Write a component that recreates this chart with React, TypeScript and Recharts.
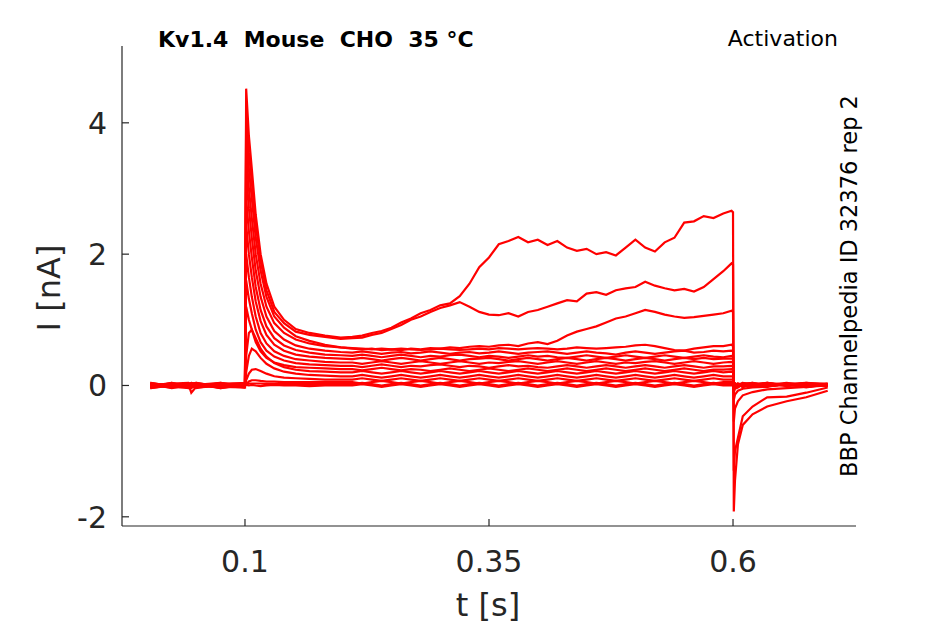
// Kv1.4 activation traces, current vs time
import { LineChart, Line, XAxis, YAxis } from "recharts";

const AXIS = "#262626";
const RED = "#ff0000";
const FONT = "DejaVu Sans, Verdana, sans-serif";

// time points (s)
const tGrid = [
  0.003, 0.025, 0.042, 0.045, 0.05, 0.075, 0.0995,
  0.1, 0.1012, 0.104, 0.107, 0.111, 0.116, 0.122, 0.13, 0.14, 0.152, 0.166, 0.182, 0.198,
  0.21, 0.22, 0.23, 0.24, 0.25, 0.26, 0.27, 0.28, 0.29, 0.3, 0.31, 0.32, 0.33, 0.34, 0.35,
  0.36, 0.37, 0.38, 0.39, 0.4, 0.41, 0.42, 0.43, 0.44, 0.45, 0.46, 0.47, 0.48, 0.49, 0.5,
  0.51, 0.52, 0.53, 0.54, 0.55, 0.56, 0.57, 0.58, 0.59, 0.5985,
  0.6, 0.6008, 0.602, 0.605, 0.61, 0.62, 0.635, 0.655, 0.675, 0.697,
];

// current (nA) per sweep, same order as tGrid
const sweepA = [
  0.03, -0.03, 0.02, -0.11, -0.02, 0.03, -0.02,
  0.0, 4.52, 3.8, 3.3, 2.6, 2.0, 1.55, 1.2, 1.0, 0.86, 0.8, 0.76, 0.73,
  0.74, 0.76, 0.8, 0.83, 0.88, 0.96, 1.02, 1.1, 1.15, 1.22, 1.25, 1.36, 1.55, 1.8, 1.95,
  2.15, 2.2, 2.26, 2.18, 2.22, 2.14, 2.2, 2.1, 2.05, 2.08, 2.0, 2.03, 1.98, 2.1, 2.22,
  2.1, 2.04, 2.18, 2.25, 2.48, 2.5, 2.58, 2.55, 2.62, 2.66,
  2.64, -1.92, -1.45, -0.9, -0.6, -0.44, -0.32, -0.24, -0.18, -0.08,
];
const sweepB = [
  -0.03, 0.04, -0.02, 0.01, 0.03, -0.04, 0.02,
  0.0, 4.25, 3.55, 3.1, 2.45, 1.9, 1.45, 1.12, 0.95, 0.82, 0.77, 0.74, 0.71,
  0.72, 0.73, 0.77, 0.8, 0.86, 0.92, 1.0, 1.05, 1.12, 1.18, 1.22, 1.27, 1.2, 1.12, 1.08,
  1.07, 1.1, 1.05, 1.12, 1.15, 1.2, 1.25, 1.3, 1.28, 1.4, 1.42, 1.38, 1.45, 1.48, 1.5,
  1.58, 1.52, 1.48, 1.45, 1.47, 1.43, 1.5, 1.62, 1.74, 1.86,
  1.84, -1.3, -1.0, -0.8, -0.47, -0.32, -0.18, -0.17, -0.11, -0.03,
];
const sweepC = [
  0.04, -0.01, -0.04, 0.02, -0.02, 0.03, -0.03,
  0.0, 3.95, 3.3, 2.85, 2.25, 1.75, 1.35, 1.05, 0.88, 0.75, 0.68, 0.62, 0.58,
  0.56, 0.55, 0.56, 0.54, 0.55, 0.54, 0.56, 0.55, 0.57, 0.56, 0.58, 0.57, 0.59, 0.6, 0.59,
  0.61, 0.62, 0.6, 0.64, 0.66, 0.63, 0.68, 0.76, 0.82, 0.86, 0.9, 0.96, 1.02, 1.05, 1.1,
  1.15, 1.12, 1.08, 1.05, 1.03, 1.04, 1.06, 1.08, 1.1, 1.14,
  1.12, -0.55, -0.35, -0.24, -0.15, -0.1, -0.06, -0.04, -0.02, 0.0,
];
const sweepD = [
  -0.02, 0.03, 0.04, -0.03, 0.01, 0.02, 0.04,
  0.0, 3.6, 3.0, 2.55, 2.0, 1.55, 1.2, 0.95, 0.8, 0.7, 0.64, 0.6, 0.58,
  0.57, 0.56, 0.55, 0.56, 0.55, 0.56, 0.55, 0.54, 0.55, 0.56, 0.55, 0.54, 0.55, 0.56, 0.55,
  0.57, 0.56, 0.55, 0.56, 0.57, 0.56, 0.55, 0.56, 0.58, 0.57, 0.56, 0.57, 0.58, 0.59, 0.61,
  0.62, 0.6, 0.57, 0.54, 0.53, 0.56, 0.58, 0.6, 0.6, 0.62,
  0.6, -0.22, -0.14, -0.08, -0.05, -0.03, -0.02, 0.03, -0.03, 0.02,
];
const sweepE = [
  -0.04, 0.01, 0.03, 0.04, -0.03, -0.01, 0.02,
  0.0, 3.25, 2.7, 2.25, 1.75, 1.35, 1.05, 0.83, 0.7, 0.61, 0.56, 0.53, 0.51,
  0.5, 0.52, 0.5, 0.48, 0.5, 0.51, 0.49, 0.5, 0.52, 0.5, 0.48, 0.5, 0.51, 0.49, 0.5,
  0.52, 0.5, 0.48, 0.5, 0.51, 0.52, 0.5, 0.48, 0.5, 0.52, 0.5, 0.49, 0.47, 0.5, 0.52,
  0.5, 0.48, 0.5, 0.52, 0.53, 0.5, 0.51, 0.53, 0.52, 0.53,
  0.52, -0.1, -0.05, -0.03, 0.02, -0.02, 0.03, 0.0, 0.04, 0.01,
];
const sweepF = [
  0.02, -0.04, 0.01, 0.03, 0.04, -0.02, -0.03,
  0.0, 2.85, 2.35, 1.95, 1.5, 1.15, 0.9, 0.72, 0.61, 0.54, 0.5, 0.47, 0.46,
  0.45, 0.47, 0.45, 0.43, 0.45, 0.47, 0.45, 0.43, 0.45, 0.44, 0.46, 0.47, 0.45, 0.43, 0.45,
  0.44, 0.42, 0.44, 0.46, 0.44, 0.45, 0.43, 0.42, 0.44, 0.46, 0.44, 0.42, 0.44, 0.46, 0.44,
  0.42, 0.44, 0.46, 0.44, 0.42, 0.44, 0.46, 0.44, 0.43, 0.45,
  0.44, -0.06, -0.03, 0.02, -0.02, 0.03, -0.01, 0.02, -0.02, 0.03,
];
const sweepG = [
  -0.01, 0.04, -0.03, 0.0, 0.03, -0.02, 0.01,
  0.0, 2.45, 2.0, 1.65, 1.28, 0.98, 0.77, 0.62, 0.53, 0.47, 0.44, 0.42, 0.41,
  0.4, 0.42, 0.4, 0.38, 0.4, 0.42, 0.4, 0.38, 0.4, 0.42, 0.4, 0.38, 0.4, 0.41, 0.42,
  0.4, 0.38, 0.4, 0.42, 0.4, 0.38, 0.4, 0.42, 0.4, 0.38, 0.4, 0.42, 0.4, 0.38, 0.4,
  0.42, 0.4, 0.38, 0.4, 0.42, 0.4, 0.42, 0.4, 0.41, 0.41,
  0.41, -0.05, -0.02, 0.03, -0.01, 0.02, 0.04, -0.01, 0.02, 0.01,
];
const sweepH = [
  0.04, -0.02, 0.02, -0.04, 0.01, 0.03, -0.01,
  0.0, 2.0, 1.65, 1.35, 1.05, 0.8, 0.64, 0.52, 0.45, 0.4, 0.38, 0.36, 0.35,
  0.35, 0.33, 0.35, 0.37, 0.35, 0.33, 0.35, 0.37, 0.35, 0.33, 0.35, 0.37, 0.35, 0.33, 0.35,
  0.34, 0.36, 0.37, 0.35, 0.33, 0.35, 0.37, 0.35, 0.33, 0.35, 0.37, 0.35, 0.33, 0.35, 0.34,
  0.36, 0.37, 0.35, 0.33, 0.35, 0.37, 0.35, 0.33, 0.35, 0.36,
  0.35, -0.04, 0.01, -0.02, 0.03, 0.02, -0.01, 0.03, 0.01, 0.02,
];
const sweepI = [
  -0.03, 0.02, 0.0, 0.04, 0.02, -0.04, 0.01,
  0.0, 1.6, 1.32, 1.1, 0.85, 0.66, 0.53, 0.44, 0.38, 0.34, 0.32, 0.31, 0.3,
  0.3, 0.28, 0.3, 0.32, 0.3, 0.28, 0.3, 0.29, 0.31, 0.32, 0.3, 0.28, 0.3, 0.29, 0.27,
  0.29, 0.31, 0.29, 0.3, 0.28, 0.27, 0.29, 0.31, 0.29, 0.27, 0.29, 0.31, 0.29, 0.27, 0.29,
  0.31, 0.29, 0.27, 0.29, 0.31, 0.29, 0.27, 0.29, 0.29, 0.3,
  0.29, -0.03, 0.02, 0.01, -0.02, 0.03, 0.01, 0.04, 0.0, 0.02,
];
const sweepJ = [
  0.02, -0.02, -0.03, 0.03, 0.0, 0.02, 0.03,
  0.0, 1.2, 1.0, 0.85, 0.66, 0.52, 0.42, 0.35, 0.31, 0.28, 0.27, 0.26, 0.25,
  0.25, 0.23, 0.25, 0.27, 0.25, 0.23, 0.25, 0.24, 0.22, 0.24, 0.26, 0.24, 0.22, 0.24, 0.26,
  0.24, 0.22, 0.24, 0.26, 0.24, 0.22, 0.24, 0.26, 0.24, 0.22, 0.24, 0.26, 0.24, 0.22, 0.24,
  0.26, 0.24, 0.22, 0.24, 0.26, 0.24, 0.22, 0.24, 0.24, 0.25,
  0.24, -0.02, 0.03, -0.01, 0.02, 0.04, 0.0, 0.02, 0.03, -0.01,
];
const sweepK = [
  0.0, -0.03, 0.03, 0.01, -0.04, 0.02, 0.03,
  0.0, 0.45, 0.8, 0.85, 0.72, 0.56, 0.44, 0.34, 0.28, 0.24, 0.22, 0.21, 0.2,
  0.2, 0.22, 0.2, 0.18, 0.2, 0.22, 0.2, 0.18, 0.2, 0.22, 0.2, 0.18, 0.2, 0.22, 0.2,
  0.18, 0.2, 0.22, 0.2, 0.18, 0.2, 0.22, 0.2, 0.18, 0.2, 0.22, 0.2, 0.18, 0.2, 0.22,
  0.2, 0.18, 0.2, 0.22, 0.2, 0.18, 0.2, 0.22, 0.2, 0.21,
  0.2, -0.01, 0.03, -0.02, 0.04, 0.01, -0.01, 0.03, 0.01, 0.0,
];
const sweepL = [
  0.03, 0.01, -0.02, 0.02, -0.03, 0.04, -0.01,
  0.0, 0.2, 0.45, 0.56, 0.52, 0.42, 0.33, 0.26, 0.21, 0.18, 0.16, 0.15, 0.14,
  0.14, 0.16, 0.14, 0.12, 0.14, 0.16, 0.14, 0.12, 0.14, 0.16, 0.14, 0.12, 0.14, 0.16, 0.14,
  0.12, 0.14, 0.16, 0.14, 0.12, 0.14, 0.16, 0.14, 0.12, 0.14, 0.16, 0.14, 0.12, 0.14, 0.16,
  0.14, 0.12, 0.14, 0.16, 0.14, 0.12, 0.14, 0.16, 0.14, 0.14,
  0.14, 0.0, 0.03, 0.02, -0.02, 0.01, 0.04, 0.0, 0.02, 0.03,
];
const sweepM = [
  -0.02, 0.03, 0.01, -0.03, 0.02, -0.01, -0.03,
  0.0, 0.08, 0.18, 0.24, 0.25, 0.22, 0.18, 0.14, 0.12, 0.11, 0.1, 0.09, 0.09,
  0.09, 0.11, 0.09, 0.07, 0.09, 0.11, 0.09, 0.07, 0.09, 0.11, 0.09, 0.07, 0.09, 0.11, 0.09,
  0.07, 0.09, 0.11, 0.09, 0.07, 0.09, 0.11, 0.09, 0.07, 0.09, 0.11, 0.09, 0.07, 0.09, 0.11,
  0.09, 0.07, 0.09, 0.11, 0.09, 0.07, 0.09, 0.11, 0.09, 0.09,
  0.09, 0.01, -0.02, 0.03, 0.01, -0.01, 0.04, 0.01, -0.02, 0.02,
];
const sweepN = [
  -0.04, 0.0, 0.03, -0.02, 0.01, -0.03, 0.02,
  0.0, 0.02, 0.06, 0.08, 0.08, 0.07, 0.06, 0.06, 0.05, 0.05, 0.05, 0.05, 0.05,
  0.05, 0.03, 0.05, 0.07, 0.05, 0.03, 0.05, 0.07, 0.05, 0.03, 0.05, 0.07, 0.05, 0.03, 0.05,
  0.07, 0.05, 0.03, 0.05, 0.07, 0.05, 0.03, 0.05, 0.07, 0.05, 0.03, 0.05, 0.07, 0.05, 0.03,
  0.05, 0.07, 0.05, 0.03, 0.05, 0.07, 0.05, 0.03, 0.05, 0.05,
  0.05, 0.0, 0.03, -0.02, 0.02, 0.04, -0.01, 0.01, 0.03, 0.0,
];
const sweepO = [
  0.02, -0.03, -0.02, 0.03, 0.01, 0.04, -0.02,
  0.0, 0.01, 0.03, 0.03, 0.03, 0.03, 0.02, 0.02, 0.02, 0.02, 0.02, 0.02, 0.02,
  0.02, 0.04, 0.02, 0.0, 0.02, 0.04, 0.02, 0.0, 0.02, 0.04, 0.02, 0.0, 0.02, 0.04, 0.02,
  0.0, 0.02, 0.04, 0.02, 0.0, 0.02, 0.04, 0.02, 0.0, 0.02, 0.04, 0.02, 0.0, 0.02, 0.04,
  0.02, 0.0, 0.02, 0.04, 0.02, 0.0, 0.02, 0.04, 0.02, 0.02,
  0.02, 0.01, -0.03, 0.02, 0.0, 0.03, -0.01, 0.02, 0.04, 0.02,
];
const sweepP = [
  0.0, 0.03, -0.04, 0.02, 0.04, -0.02, 0.02,
  0.0, 0.01, 0.0, 0.01, 0.0, -0.01, 0.0, 0.01, 0.0, 0.0, -0.01, 0.0, 0.0,
  0.0, 0.02, 0.0, -0.02, 0.0, 0.02, 0.0, -0.02, 0.0, 0.02, 0.0, -0.02, 0.0, 0.02, 0.0,
  -0.02, 0.0, 0.02, 0.0, -0.02, 0.0, 0.02, 0.0, -0.02, 0.0, 0.02, 0.0, -0.02, 0.0, 0.02,
  0.0, -0.02, 0.0, 0.02, 0.0, -0.02, 0.0, 0.02, 0.0, 0.0,
  0.0, 0.03, -0.02, 0.01, 0.04, -0.01, 0.02, 0.0, 0.03, -0.01,
];

const sweeps: [string, number[]][] = [
  ["A", sweepA], ["B", sweepB], ["C", sweepC], ["D", sweepD],
  ["E", sweepE], ["F", sweepF], ["G", sweepG], ["H", sweepH],
  ["I", sweepI], ["J", sweepJ], ["K", sweepK], ["L", sweepL],
  ["M", sweepM], ["N", sweepN], ["O", sweepO], ["P", sweepP],
];

const xTicks = [0.1, 0.35, 0.6];
const yTicks = [-2, 0, 2, 4];

const rows = tGrid.map((t, i) => {
  const row: Record<string, number> = { t };
  sweeps.forEach(([k, vals]) => { row[k] = vals[i]; });
  return row;
});

const YTick = ({ x, y, payload }: any) => (
  <g>
    <line x1={x} x2={x + 7} y1={y} y2={y} stroke={AXIS} strokeWidth={1.2} />
    <text x={x - 15} y={y} dy="0.36em" textAnchor="end" fontSize={30} fill={AXIS} fontFamily={FONT}>
      {String(payload.value)}
    </text>
  </g>
);

const XTick = ({ x, y, payload }: any) => (
  <g>
    <line x1={x} x2={x} y1={y} y2={y - 7} stroke={AXIS} strokeWidth={1.2} />
    <text x={x} y={y + 46} textAnchor="middle" fontSize={30} fill={AXIS} fontFamily={FONT}>
      {String(payload.value)}
    </text>
  </g>
);

export default function App() {
  return (
    <div style={{ position: "relative", width: 945, height: 624, background: "#fff" }}>
      <style>{"body{margin:0}"}</style>
      <LineChart width={945} height={624} data={rows} margin={{ top: 46, right: 89, left: 62, bottom: 38 }}>
        <XAxis
          dataKey="t" type="number" domain={[-0.026, 0.726]} ticks={xTicks}
          height={60} tickSize={0} tickMargin={0} tick={<XTick />}
          axisLine={{ stroke: AXIS, strokeWidth: 1.2 }} allowDataOverflow
        />
        <YAxis
          type="number" domain={[-2.14, 5.17]} ticks={yTicks}
          width={60} tickSize={0} tickMargin={0} tick={<YTick />}
          axisLine={{ stroke: AXIS, strokeWidth: 1.2 }} allowDataOverflow
        />
        {sweeps.map(([k]) => (
          <Line key={k} dataKey={k} type="linear" stroke={RED} strokeWidth={2.2}
            dot={false} activeDot={false} isAnimationActive={false} />
        ))}
      </LineChart>
      <svg width={945} height={624} style={{ position: "absolute", left: 0, top: 0, pointerEvents: "none" }}>
        <text x={158} y={47} fontSize={22} fontWeight="bold" fill="#000" fontFamily={FONT} style={{ whiteSpace: "pre" }}>
          {"Kv1.4  Mouse  CHO  35 °C"}
        </text>
        <text x={838} y={46} textAnchor="end" fontSize={22} fill="#000" fontFamily={FONT}>Activation</text>
        <text transform="translate(857,286) rotate(-90)" textAnchor="middle" fontSize={22.5} fill="#000" fontFamily={FONT}>
          BBP Channelpedia ID 32376 rep 2
        </text>
        <text x={488} y={616} textAnchor="middle" fontSize={32} fill={AXIS} fontFamily={FONT}>t [s]</text>
        <text transform="translate(60,288) rotate(-90)" textAnchor="middle" fontSize={32} fill={AXIS} fontFamily={FONT}>I [nA]</text>
      </svg>
    </div>
  );
}
